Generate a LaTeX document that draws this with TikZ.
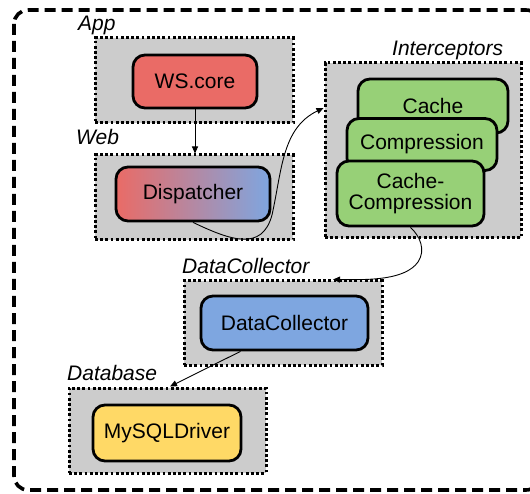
\documentclass[tikz,border=0pt]{standalone}
\usepackage{fontspec}
\setmainfont{Liberation Sans}
\usetikzlibrary{arrows.meta}
\definecolor{grpgray}{HTML}{CCCCCC}
\definecolor{corered}{HTML}{EA6B66}
\definecolor{ifgreen}{HTML}{97D077}
\definecolor{dcblue}{HTML}{7EA6E0}
\definecolor{dbyellow}{HTML}{FFD966}
\tikzset{
  group/.style={draw=black, fill=grpgray, line width=3pt,
    dash pattern=on 2.8pt off 2.4pt, inner sep=0pt},
  comp/.style={draw=black, line width=2.8pt, rounded corners=12pt,
    inner sep=0pt, align=center, font=\fontsize{21}{23}\selectfont},
  grplabel/.style={anchor=base west, inner sep=0pt,
    font=\fontsize{21}{23}\selectfont\itshape},
  link/.style={draw=black, line width=0.9pt,
    -{Triangle[length=7pt,width=6pt]}},
}
\begin{document}
\begin{tikzpicture}[x=1pt,y=-1pt]
\useasboundingbox (0,0) rectangle (530,494);

% outer container
\draw[line width=3.6pt, dash pattern=on 11pt off 6pt, rounded corners=14pt]
  (14,10) rectangle (540,490);

% groups
\node[group, minimum width=198pt, minimum height=85pt] (app) at (194,80.5) {};
\node[group, minimum width=198pt, minimum height=85pt] (web) at (194,197.5) {};
\node[group, minimum width=196pt, minimum height=175pt] (icp) at (423,150.5) {};
\node[group, minimum width=198pt, minimum height=84pt] (dcg) at (283,323) {};
\node[group, minimum width=197pt, minimum height=85pt] (dbg) at (167.5,430.5) {};

% group labels
\node[grplabel] (applbl) at (78,30.5) {App};
\node[grplabel] (weblbl) at (76,145) {Web};
\node[grplabel] (icplbl) at (392,55.5) {Interceptors};
\node[grplabel] (dclbl) at (182,274) {DataCollector};
\node[grplabel] (dblbl) at (67,380) {Database};

% components
\node[comp, fill=corered, minimum width=124pt, minimum height=53pt] (wscore) at (195,81.5) {WS.core};
\node[comp, left color=corered, right color=dcblue, minimum width=154pt, minimum height=54pt] (disp) at (193,194) {Dispatcher};
\node[comp, fill=ifgreen, minimum width=150pt, minimum height=54pt] (cache) at (433,106) {Cache};
\node[comp, fill=ifgreen, minimum width=150pt, minimum height=52pt] (compr) at (422,144.5) {Compression};
\node[comp, fill=ifgreen, minimum width=147pt, minimum height=65pt] (cc) at (410.5,193.5) {Cache-\\[-2pt]Compression};
\node[comp, fill=dcblue, minimum width=167pt, minimum height=54pt] (dc) at (284.5,323) {DataCollector};
\node[comp, fill=dbyellow, minimum width=148pt, minimum height=56pt] (mysql) at (167,433) {MySQLDriver};

% connectors
\draw[link] (wscore.south) -- (web.north -| wscore.south);
\draw[link] (disp.south) .. controls (230,240) and (262,252) .. (272,215)
  .. controls (282,170) and (282,128) .. (icp.west |- 0,108);
\draw[link] (cc.south) .. controls (420,236) and (426,250) .. (418,262)
  .. controls (405,280) and (370,280) .. (dcg.north -| 333,0);
\draw[link] ([xshift=-44pt]dc.south) -- (dbg.north -| 170,0);
\end{tikzpicture}
\end{document}
